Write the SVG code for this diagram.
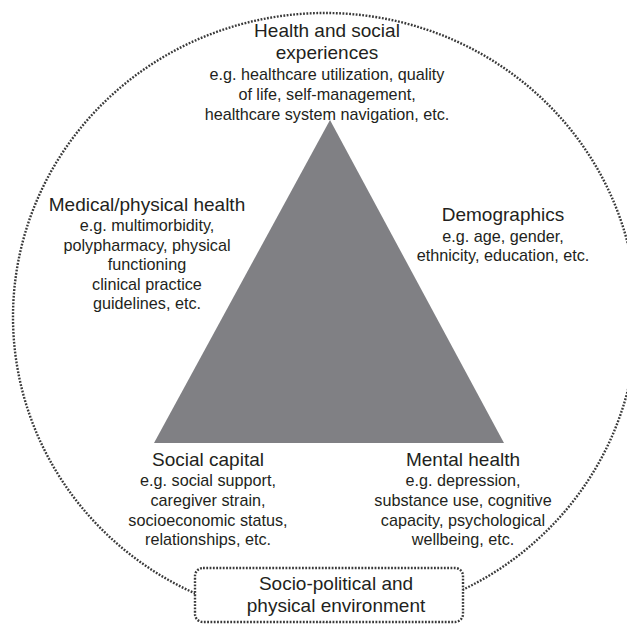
<svg xmlns="http://www.w3.org/2000/svg" width="627" height="625" viewBox="0 0 627 625">
<style>
text{font-family:"Liberation Sans",Arial,sans-serif;fill:#231f20;text-anchor:middle}
.t{font-size:19px}
.s{font-size:16.2px}
.dot{fill:none;stroke:#3a3a3a;stroke-width:2.4;stroke-dasharray:1.8 1.5}
</style>
<rect width="627" height="625" fill="#fff"/>
<g id="connectors">
<ellipse class="dot" cx="325" cy="317" rx="312" ry="304"/>
</g>
<g id="triangle"><polygon points="330,120 154,443 504,443" fill="#808084"/></g>
<g id="health-social">
<text class="t" x="327" y="37">Health and social</text>
<text class="t" x="327" y="59">experiences</text>
<text class="s" x="327" y="80">e.g. healthcare utilization, quality</text>
<text class="s" x="327" y="100">of life, self-management,</text>
<text class="s" x="327" y="120">healthcare system navigation, etc.</text>
</g>
<g id="medical">
<text class="t" x="147" y="211">Medical/physical health</text>
<text class="s" x="147" y="231">e.g. multimorbidity,</text>
<text class="s" x="147" y="251">polypharmacy, physical</text>
<text class="s" x="147" y="270">functioning</text>
<text class="s" x="147" y="290">clinical practice</text>
<text class="s" x="147" y="309">guidelines, etc.</text>
</g>
<g id="demographics">
<text class="t" x="503" y="221">Demographics</text>
<text class="s" x="503" y="242">e.g. age, gender,</text>
<text class="s" x="503" y="261">ethnicity, education, etc.</text>
</g>
<g id="social-capital">
<text class="t" x="208" y="466">Social capital</text>
<text class="s" x="208" y="486">e.g. social support,</text>
<text class="s" x="208" y="506">caregiver strain,</text>
<text class="s" x="208" y="526">socioeconomic status,</text>
<text class="s" x="208" y="545">relationships, etc.</text>
</g>
<g id="mental-health">
<text class="t" x="463" y="466">Mental health</text>
<text class="s" x="463" y="486">e.g. depression,</text>
<text class="s" x="463" y="506">substance use, cognitive</text>
<text class="s" x="463" y="526">capacity, psychological</text>
<text class="s" x="463" y="545">wellbeing, etc.</text>
</g>
<g id="socio-political">
<rect class="dot" x="195" y="568" width="268" height="54" rx="8" style="fill:#fff"/>
<text class="t" x="336" y="590">Socio-political and</text>
<text class="t" x="336" y="612">physical environment</text>
</g>
</svg>
